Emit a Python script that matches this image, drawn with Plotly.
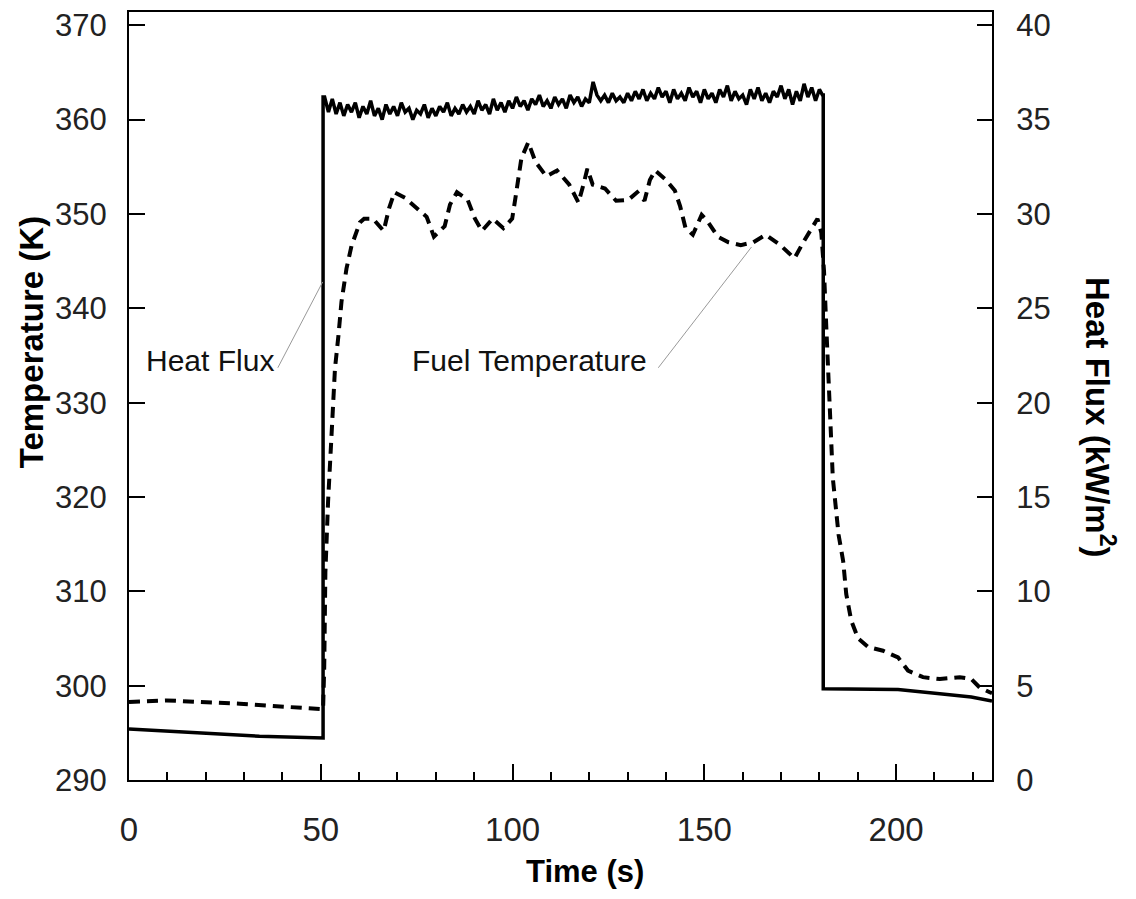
import plotly.graph_objects as go

# ---------------- data ----------------
# Heat flux (kW/m2), right axis
flux_t_pre = [0, 18.5, 34, 50.6]
flux_v_pre = [2.70, 2.50, 2.32, 2.23]

flux_t_mid = [50.6] + list(range(51, 181)) + [180.8]
flux_v_mid = [36.2,
    36.2, 35.4, 36.1, 35.3, 35.9, 35.2, 35.8, 35.4, 35.9, 35.1,
    35.7, 35.3, 36.0, 35.2, 35.6, 35.0, 35.8, 35.3, 35.7, 35.2,
    35.9, 35.4, 35.6, 35.0, 35.5, 35.3, 35.8, 35.1, 35.6, 35.2,
    35.7, 35.4, 35.9, 35.2, 35.6, 35.3, 35.8, 35.4, 35.7, 35.3,
    36.0, 35.5, 35.8, 35.3, 36.1, 35.5, 35.9, 35.4, 36.0, 35.6,
    36.2, 35.7, 36.0, 35.5, 36.1, 35.8, 36.3, 35.7, 36.0, 35.6,
    36.2, 35.8, 36.1, 35.6, 36.3, 35.9, 36.2, 35.7, 36.1, 35.9,
    37.0, 36.3, 36.0, 36.3, 35.9, 36.4, 36.0, 36.2, 35.9, 36.4,
    36.0, 36.5, 36.1, 36.6, 36.0, 36.4, 36.1, 36.7, 36.2, 36.5,
    35.9, 36.6, 36.1, 36.4, 36.0, 36.7, 36.2, 36.5, 35.9, 36.6,
    36.1, 36.4, 35.9, 36.6, 36.2, 36.8, 36.0, 36.5, 36.1, 36.3,
    35.8, 36.6, 36.1, 36.7, 36.0, 36.4, 35.9, 36.5, 36.2, 36.8,
    36.1, 36.6, 35.8, 36.5, 36.0, 36.9, 36.2, 36.7, 36.0, 36.6,
    36.3]

flux_t_post = [181.0, 181.0, 200.5, 211.4, 219.6, 225]
flux_v_post = [36.3, 4.84, 4.79, 4.57, 4.40, 4.19]

flux_t = flux_t_pre + flux_t_mid + flux_t_post
flux_v = flux_v_pre + flux_v_mid + flux_v_post

# Fuel temperature (K), left axis
fuel_t = [0, 9.8, 18.5, 28.9, 39.4, 46.3, 49.3, 50.6, 50.9, 51.2, 51.9,
          52.4, 52.8, 53.2, 53.7, 54.6, 55.4, 56.7, 58.0, 60.2, 61.3,
          63.6, 66.4, 67.8, 69.2, 72.0, 74.4, 77.6, 79.5, 82.3, 83.7,
          85.5, 88.3, 90.2, 92.0, 94.8, 97.6, 99.9, 100.9, 102.3, 104.1,
          106.0, 108.8, 111.6, 114.8, 117.2, 118.6, 119.5, 120.9, 124.1, 127.0,
          130.2, 132.5, 134.4, 135.8, 137.2, 140.0, 142.3, 143.7, 145.1, 147.0,
          149.3, 150.7, 153.5, 156.3, 159.5, 162.8, 166.0, 169.8, 173.5, 175.8,
          178.6, 179.5, 180.5, 181.2, 181.8, 182.5, 183.5, 185.0, 186.2, 187.0,
          188.3, 190.1, 192.7, 196.6, 200.5, 203.1, 207.0, 211.4, 216.6, 219.6,
          221.8, 224.4, 225.0]
fuel_v = [298.26, 298.44, 298.26, 298.09, 297.80, 297.67, 297.56, 297.5, 302.0, 312.0, 319.5,
          323.0, 326.6, 330.1, 333.6, 337.1, 340.7, 344.2, 346.6, 349.1, 349.5,
          349.5, 348.2, 350.6, 352.3, 351.7, 350.8, 349.7, 347.6, 348.7, 351.0,
          352.3, 351.5, 349.5, 348.2, 349.5, 348.5, 349.5, 352.1, 355.9, 357.6,
          355.5, 354.0, 354.6, 353.1, 351.2, 353.3, 354.8, 353.1, 352.7, 351.4,
          351.5, 352.3, 351.4, 353.6, 354.6, 353.6, 352.5, 350.8, 348.5, 347.8,
          349.9, 349.3, 347.6, 347.0, 346.7, 347.0, 347.8, 346.7, 345.3, 347.0,
          348.9, 349.5, 348.0, 344.0, 338.0, 332.0, 322.0, 316.0, 313.2, 309.7,
          306.9, 305.0, 304.1, 303.7, 303.0, 301.6, 300.9, 300.7, 300.9, 300.7,
          299.8, 299.3, 299.2]

x_ticks = [0, 50, 100, 150, 200]
temp_ticks = [290, 300, 310, 320, 330, 340, 350, 360, 370]
flux_ticks = [0, 5, 10, 15, 20, 25, 30, 35, 40]

FONT = "Arial, Liberation Sans, sans-serif"

fig = go.Figure()
fig.add_trace(go.Scatter(
    x=fuel_t, y=fuel_v, mode="lines", yaxis="y",
    line=dict(color="black", width=4, dash="11px,7px"),
    showlegend=False, hoverinfo="skip"))
fig.add_trace(go.Scatter(
    x=flux_t, y=flux_v, mode="lines", yaxis="y2",
    line=dict(color="black", width=3.5),
    showlegend=False, hoverinfo="skip"))

axis_common = dict(showgrid=False, zeroline=False, showline=True,
                   linecolor="black", linewidth=2, ticks="inside",
                   tickcolor="black", tickwidth=2, ticklabeloverflow="allow")

fig.update_layout(
    width=1118, height=882,
    margin=dict(l=121, r=134, t=0, b=110),
    paper_bgcolor="white", plot_bgcolor="white",
    xaxis=dict(range=[0, 225], tickvals=x_ticks, ticklen=16, mirror=True,
               ticklabelstandoff=19,
               tickfont=dict(family=FONT, size=33, color="#222"),
               minor=dict(dtick=10, tick0=0, ticklen=8, ticks="inside",
                          tickcolor="black", tickwidth=2),
               **axis_common),
    yaxis=dict(range=[290, 371.41], tickvals=temp_ticks, ticklen=16,
               ticklabelstandoff=14,
               tickfont=dict(family=FONT, size=31, color="#222"),
               **axis_common),
    yaxis2=dict(range=[0, 40.705], tickvals=flux_ticks, ticklen=15,
                overlaying="y", side="right", ticklabelstandoff=16,
                tickfont=dict(family=FONT, size=31, color="#222"),
                **axis_common),
    annotations=[
        dict(text="<b>Time (s)</b>", xref="paper", yref="paper",
             x=0.528, y=-0.119, xanchor="center", yanchor="middle",
             showarrow=False,
             font=dict(family=FONT, size=31, color="black")),
        dict(text="<b>Temperature (K)</b>", xref="paper", yref="paper",
             x=-0.1135, y=0.57, xanchor="center", yanchor="middle",
             textangle=-90, showarrow=False,
             font=dict(family=FONT, size=33, color="black")),
        dict(text="<b>Heat Flux (kW/m<sup>2</sup>)</b>", xref="paper", yref="paper",
             x=1.125, y=0.4715, xanchor="center", yanchor="middle",
             textangle=90, showarrow=False,
             font=dict(family=FONT, size=33, color="black")),
        dict(text="Heat Flux", xref="x", yref="y", x=21.1, y=334.5,
             xanchor="center", yanchor="middle",
             showarrow=False, font=dict(family=FONT, size=30, color="#111")),
        dict(text="Fuel Temperature", xref="x", yref="y", x=104.5, y=334.5,
             xanchor="center", yanchor="middle",
             showarrow=False, font=dict(family=FONT, size=30, color="#111")),
    ],
    shapes=[
        dict(type="line", xref="x", yref="y", x0=38.8, y0=333.7, x1=50.5, y1=342.8,
             line=dict(color="#999", width=1)),
        dict(type="line", xref="x", yref="y", x0=138.0, y0=333.7, x1=162.3, y1=346.5,
             line=dict(color="#999", width=1)),
    ],
)

fig.write_html("out.html")
